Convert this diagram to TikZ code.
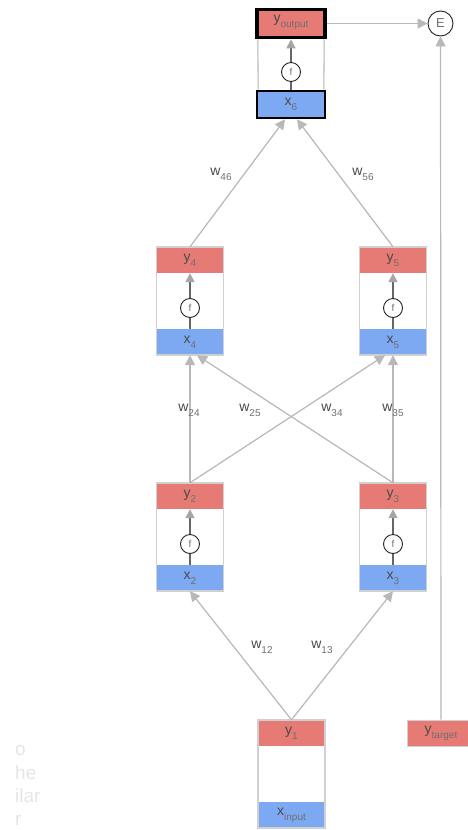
\documentclass[tikz,border=0pt]{standalone}
\usepackage{fontspec}
\setmainfont{Liberation Sans}
\usetikzlibrary{arrows.meta}

\definecolor{yred}{HTML}{E57B74}
\definecolor{xblue}{HTML}{7DA8F2}
\definecolor{framegray}{HTML}{D0D0D0}
\definecolor{linkgray}{HTML}{B8B8B8}
\definecolor{txtgray}{HTML}{4A4A4A}
\definecolor{subgray}{HTML}{707070}
\definecolor{ghost}{HTML}{E6E6E6}

% symbol with a lowered subscript
\newcommand{\subs}[2]{#1\raisebox{-5pt}{\fontsize{10}{10}\selectfont\color{subgray}#2}}

\tikzset{
  frame/.style={draw=framegray, line width=1.6pt, minimum width=67pt, minimum height=108pt, inner sep=0pt},
  ybox/.style={fill=yred, minimum width=67pt, minimum height=26pt, inner sep=0pt,
               text=txtgray, font=\fontsize{14}{14}\selectfont},
  xbox/.style={fill=xblue, minimum width=67pt, minimum height=26pt, inner sep=0pt,
               text=txtgray, font=\fontsize{14}{14}\selectfont},
  fcirc/.style={circle, draw=black!85, fill=white, line width=0.9pt, minimum size=19pt, inner sep=0pt,
                text=subgray, font=\fontsize{10}{10}\selectfont},
  inner/.style={draw=black!60, line width=1.6pt,
                -{Triangle[length=9pt,width=9pt,color=black!35]}},
  link/.style={draw=linkgray, line width=1.2pt,
               -{Triangle[length=10pt,width=10pt,color=linkgray]}},
  wlabel/.style={text=txtgray, font=\fontsize{14}{14}\selectfont, inner sep=0pt},
  ghosttext/.style={text=ghost, font=\fontsize{19}{19}\selectfont, anchor=base west, inner sep=0pt},
}

% one neuron: #1 name, #2 centre x, #3 top y, #4 output label, #5 input label
\newcommand{\neuron}[5]{%
  \node[ybox] (#1y) at (#2,#3+13) {#4};
  \node[xbox] (#1x) at (#2,#3+95) {#5};
  \node[frame] (#1) at (#2,#3+54) {};
  \draw[inner] (#1x.north) -- (#1y.south);
  \node[fcirc] (#1f) at (#2,#3+61) {f};
}

\begin{document}
\begin{tikzpicture}[x=1pt,y=-1pt]
  \useasboundingbox (0,0) rectangle (468,830);
  \fill[white] (0,0) rectangle (468,830);

  % output neuron with emphasised boxes
  \node[ybox, draw=black, line width=3.5pt, minimum width=68pt, minimum height=28pt] (n6y) at (291,23.5) {};
  \node[xbox, draw=black, line width=2.6pt, minimum width=68pt, minimum height=27pt] (n6x) at (291,104.5) {\subs{x}{6}};
  \draw[framegray, line width=1.6pt] (n6y.south west) ++(2.5,0) -- ([xshift=2.5pt]n6x.north west);
  \draw[framegray, line width=1.6pt] (n6y.south east) ++(-2.5,0) -- ([xshift=-2.5pt]n6x.north east);
  \node[text=txtgray, font=\fontsize{14}{14}\selectfont, inner sep=0pt] (n6lbl) at (291,22) {\subs{y}{output}};
  \draw[inner] (n6x.north) -- (n6y.south);
  \node[fcirc] (n6f) at (291,72) {f};

  % hidden and input neurons
  \neuron{n4}{190}{247}{\subs{y}{4}}{\subs{x}{4}}
  \neuron{n5}{393}{247}{\subs{y}{5}}{\subs{x}{5}}
  \neuron{n2}{190}{483}{\subs{y}{2}}{\subs{x}{2}}
  \neuron{n3}{393}{483}{\subs{y}{3}}{\subs{x}{3}}

  \node[ybox] (n1y) at (291.5,733) {\subs{y}{1}};
  \node[xbox] (n1x) at (291.5,815) {\subs{x}{input}};
  \node[frame] (n1) at (291.5,774) {};

  % target and error
  \node[ybox, draw=framegray, line width=0.8pt] (tgt) at (441,733) {\subs{y}{target}};
  \node[circle, draw=black!85, fill=white, line width=0.9pt, minimum size=25pt, inner sep=0pt,
        text=subgray, font=\fontsize{13}{13}\selectfont] (E) at (440.5,23.5) {E};

  % weighted connections
  \draw[link] (n1y.north) -- (n2x.south);
  \draw[link] (n1y.north) -- (n3x.south);
  \draw[link] (n2y.north) -- (n4x.south);
  \draw[link] (n2y.north) -- ([xshift=-8pt]n5x.south);
  \draw[link] (n3y.north) -- ([xshift=7pt]n4x.south);
  \draw[link] (n3y.north) -- (n5x.south);
  \draw[link] (n4y.north) -- ([xshift=-6pt]n6x.south);
  \draw[link] (n5y.north) -- ([xshift=6pt]n6x.south);
  \draw[link] (n6y.east) -- (E.west);
  \draw[link] (tgt.north) -- (E.south);

  % weight labels
  \node[wlabel] (w12) at (262,647) {\subs{w}{12}};
  \node[wlabel] (w13) at (322,647) {\subs{w}{13}};
  \node[wlabel] (w24) at (189,410) {\subs{w}{24}};
  \node[wlabel] (w25) at (250,410) {\subs{w}{25}};
  \node[wlabel] (w34) at (332,410) {\subs{w}{34}};
  \node[wlabel] (w35) at (393,410) {\subs{w}{35}};
  \node[wlabel] (w46) at (221,174) {\subs{w}{46}};
  \node[wlabel] (w56) at (363,174) {\subs{w}{56}};

  % faded text fragments at the left margin
  \node[ghosttext] (g1) at (15,755) {o};
  \node[ghosttext] (g2) at (15,779) {he};
  \node[ghosttext] (g3) at (15,802) {ilar};
  \node[ghosttext] (g4) at (15,825) {r};
\end{tikzpicture}
\end{document}
